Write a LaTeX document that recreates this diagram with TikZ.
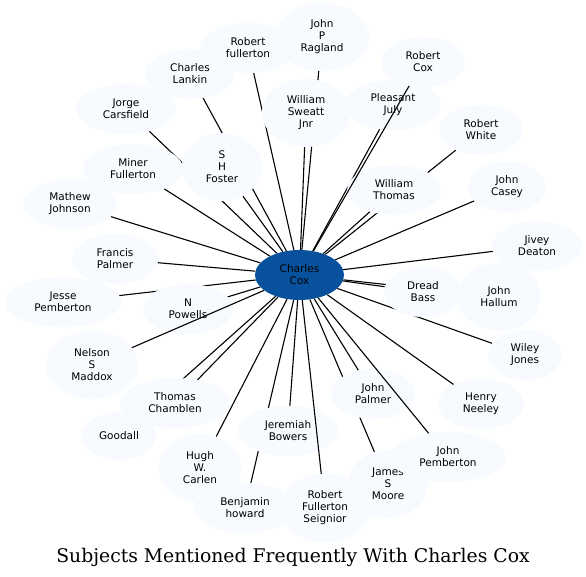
\documentclass[tikz,border=0pt]{standalone}
\usepackage{fontspec}
\setmainfont{DejaVu Sans}
\newfontfamily\titlefont{DejaVu Serif}
\usetikzlibrary{shapes.geometric}
\definecolor{hubblue}{HTML}{08519C}
\definecolor{paleblue}{HTML}{F7FBFF}
\pgfdeclarelayer{edgelayer}
\pgfdeclarelayer{toplayer}
\pgfsetlayers{edgelayer,main,toplayer}
\tikzset{
  person/.style={ellipse, fill=paleblue, draw=none, inner sep=0pt, align=center,
    font=\fontsize{10.5}{12}\selectfont},
  hub/.style={person, fill=hubblue},
  link/.style={draw=black, line width=1.1pt},
}
\begin{document}
\begin{tikzpicture}[x=1pt,y=-1pt]
\useasboundingbox (0,0) rectangle (586,577);
\node[hub, minimum width=89pt, minimum height=50pt] (cc) at (299.5,275) {Charles\\Cox};
\node[person, minimum width=94pt, minimum height=68pt] (ragland) at (322,37) {John\\P\\Ragland};
\node[person, minimum width=96pt, minimum height=50pt] (rfullerton) at (248,48) {Robert\\fullerton};
\node[person, minimum width=90pt, minimum height=50pt] (lankin) at (190,74) {Charles\\Lankin};
\node[person, minimum width=100pt, minimum height=50pt] (jorge) at (126,109) {Jorge\\Carsfield};
\node[person, minimum width=100pt, minimum height=50pt] (miner) at (133,169) {Miner\\Fullerton};
\node[person, minimum width=80pt, minimum height=68pt] (foster) at (222,167) {S\\H\\Foster};
\node[person, minimum width=94pt, minimum height=50pt] (mathew) at (70,204) {Mathew\\Johnson};
\node[person, minimum width=88pt, minimum height=68pt] (sweatt) at (306,113) {William\\Sweatt\\Jnr};
\node[person, minimum width=84pt, minimum height=50pt] (rcox) at (423,62) {Robert\\Cox};
\node[person, minimum width=96pt, minimum height=50pt] (pjuly) at (393,105) {Pleasant\\July};
\node[person, minimum width=84pt, minimum height=50pt] (rwhite) at (481,130) {Robert\\White};
\node[person, minimum width=94pt, minimum height=50pt] (wthomas) at (394,190) {William\\Thomas};
\node[person, minimum width=78pt, minimum height=50pt] (jcasey) at (507,187) {John\\Casey};
\node[person, minimum width=90pt, minimum height=50pt] (jivey) at (537,246) {Jivey\\Deaton};
\node[person, minimum width=84pt, minimum height=68pt] (hallum) at (499,297) {John\\Hallum};
\node[person, minimum width=78pt, minimum height=50pt] (dread) at (423,292) {Dread\\Bass};
\node[person, minimum width=74pt, minimum height=50pt] (wiley) at (525,355) {Wiley\\Jones};
\node[person, minimum width=86pt, minimum height=50pt] (henry) at (481,404) {Henry\\Neeley};
\node[person, minimum width=84pt, minimum height=50pt] (jpalmer) at (373,394) {John\\Palmer};
\node[person, minimum width=80pt, minimum height=68pt] (jmoore) at (388,484) {James\\S\\Moore};
\node[person, minimum width=116pt, minimum height=50pt] (jpemberton) at (448,457) {John\\Pemberton};
\node[person, minimum width=92pt, minimum height=68pt] (rfs) at (325,508) {Robert\\Fullerton\\Seignior};
\node[person, minimum width=100pt, minimum height=50pt] (jbowers) at (288,431) {Jeremiah\\Bowers};
\node[person, minimum width=102pt, minimum height=50pt] (bhoward) at (245,508) {Benjamin\\howard};
\node[person, minimum width=82pt, minimum height=68pt] (hugh) at (200,468) {Hugh\\W.\\Carlen};
\node[person, minimum width=74pt, minimum height=48pt] (goodall) at (119,436) {Goodall};
\node[person, minimum width=110pt, minimum height=50pt] (tchamblen) at (175,403) {Thomas\\Chamblen};
\node[person, minimum width=92pt, minimum height=68pt] (nelson) at (92,365) {Nelson\\S\\Maddox};
\node[person, minimum width=116pt, minimum height=50pt] (jesse) at (63,302) {Jesse\\Pemberton};
\node[person, minimum width=90pt, minimum height=50pt] (npowells) at (188,309) {N\\Powells};
\node[person, minimum width=86pt, minimum height=50pt] (francis) at (115,259) {Francis\\Palmer};
\node[font=\titlefont\fontsize{18.8}{22}\selectfont, anchor=base, inner sep=0pt] (title) at (293,562) {Subjects Mentioned Frequently With Charles Cox};
\begin{pgfonlayer}{edgelayer}
\foreach \t in {ragland,rfullerton,lankin,jorge,miner,foster,mathew,sweatt,pjuly,rwhite,wthomas,jcasey,jivey,hallum,dread,wiley,henry,jpalmer,jmoore,jbowers,bhoward,hugh,goodall,tchamblen,jesse,npowells,francis}
  \draw[link] (cc) -- (\t);
\end{pgfonlayer}
\begin{pgfonlayer}{toplayer}
\foreach \t in {rcox,nelson,jpemberton,rfs}
  \draw[link] (cc) -- (\t);
\end{pgfonlayer}
\end{tikzpicture}
\end{document}
